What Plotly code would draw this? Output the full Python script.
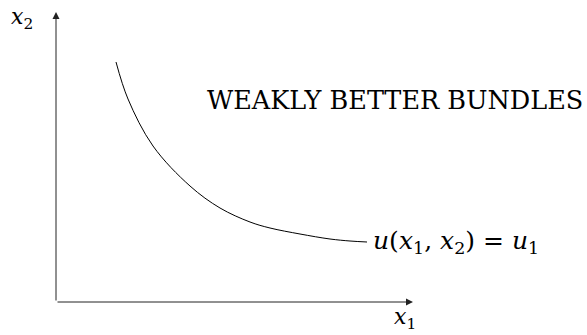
import plotly.graph_objects as go

# Indifference curve u(x1, x2) = u1, in plot units measured from the origin
curve_x1 = [60, 72, 97, 134, 164, 194, 214, 244, 274, 294, 311]
curve_x2 = [240, 203, 156, 116, 94, 80, 74, 68, 63, 61, 60]

axis_x1_end = 357
axis_x2_end = 290

curve_label = "<i>u</i>(<i>x</i><sub>1</sub>, <i>x</i><sub>2</sub>) = <i>u</i><sub>1</sub>"
region_label = "WEAKLY BETTER BUNDLES"
x1_label = "<i>x</i><sub>1</sub>"
x2_label = "<i>x</i><sub>2</sub>"

FONT = "DejaVu Serif, Liberation Serif, serif"

fig = go.Figure()
fig.add_trace(go.Scatter(
    x=curve_x1, y=curve_x2, mode="lines",
    line=dict(color="black", width=1, shape="spline", smoothing=1.0),
    hoverinfo="skip", showlegend=False,
))

# axes with arrowheads
for (xe, ye) in [(axis_x1_end, 0), (0, axis_x2_end)]:
    fig.add_annotation(
        x=xe, y=ye, ax=0, ay=0, xref="x", yref="y", axref="x", ayref="y",
        showarrow=True, arrowhead=2, arrowsize=1.4, arrowwidth=1,
        arrowcolor="#222", text="",
    )

fig.add_annotation(x=315, y=60, text=curve_label,
                   showarrow=False, xanchor="left", yanchor="middle",
                   font=dict(family=FONT, size=25, color="black"))
fig.add_annotation(x=149, y=202, text=region_label, showarrow=False,
                   xanchor="left", yanchor="middle",
                   font=dict(family=FONT, size=25.5, color="black"))
fig.add_annotation(x=349, y=-16, text=x1_label, showarrow=False,
                   xanchor="center", yanchor="middle",
                   font=dict(family=FONT, size=22, color="black"))
fig.add_annotation(x=-34, y=284, text=x2_label, showarrow=False,
                   xanchor="center", yanchor="middle",
                   font=dict(family=FONT, size=22, color="black"))

fig.update_xaxes(range=[-56, 531], visible=False, fixedrange=True)
fig.update_yaxes(range=[-33, 302], visible=False, fixedrange=True)
fig.update_layout(
    width=587, height=335, margin=dict(l=0, r=0, t=0, b=0),
    plot_bgcolor="white", paper_bgcolor="white",
)
fig.write_html("out.html")
